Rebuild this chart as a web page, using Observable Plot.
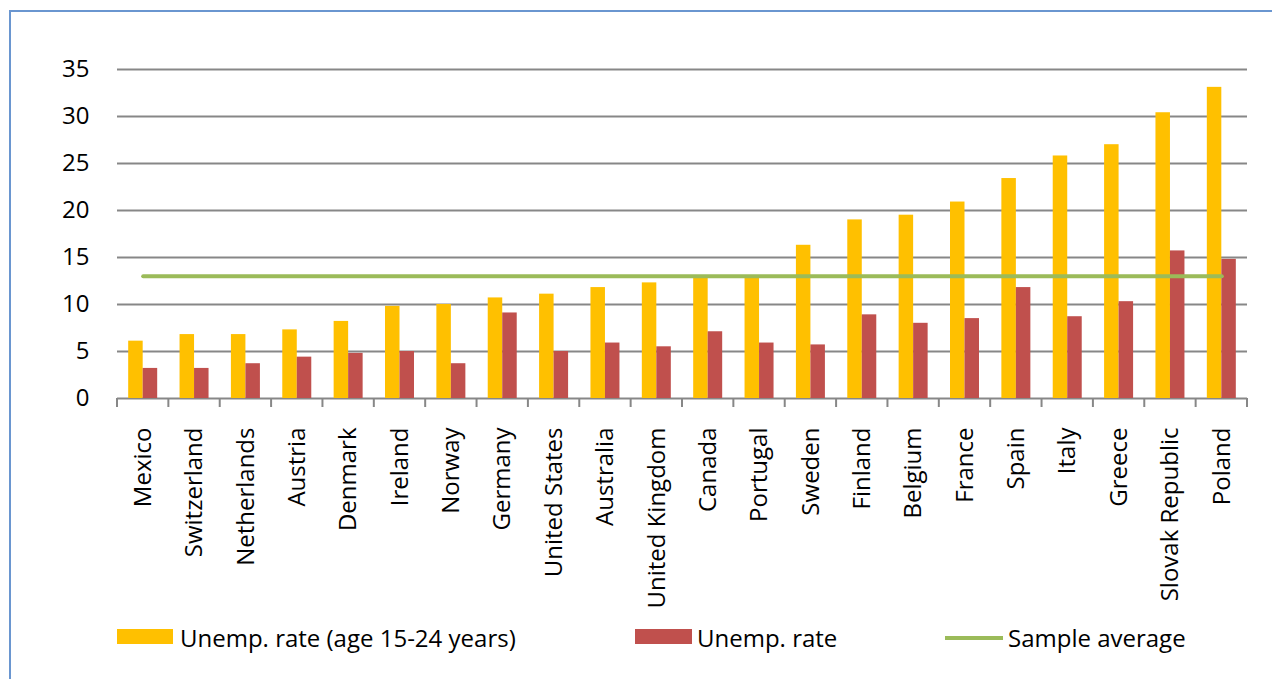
<!DOCTYPE html>
<html>
<head>
<meta charset="utf-8">
<script src="https://cdn.jsdelivr.net/npm/d3@7"></script>
<script src="https://cdn.jsdelivr.net/npm/@observablehq/plot@0.6"></script>
<style>
  html, body { margin: 0; padding: 0; background: #fff; }
  body { width: 1272px; height: 679px; overflow: hidden; position: relative; font-family: "Open Sans", sans-serif; }
  #frame { position: absolute; left: 9px; top: 10px; width: 1300px; height: 720px; border-left: 2px solid #6a96d0; border-top: 2px solid #6a96d0; box-sizing: border-box; }
  #chart { position: absolute; left: 0; top: 0; }
  .sw { position: absolute; }
  .lt { position: absolute; font-size: 24px; line-height: 24px; color: #000; white-space: pre; }
</style>
</head>
<body>
<div id="frame"></div>
<div id="chart"></div>
<div id="legend"></div>
<script>
const countries = ["Mexico","Switzerland","Netherlands","Austria","Denmark","Ireland","Norway","Germany","United States","Australia","United Kingdom","Canada","Portugal","Sweden","Finland","Belgium","France","Spain","Italy","Greece","Slovak Republic","Poland"];
const youthRate = [6.1,6.8,6.8,7.3,8.2,9.8,10.0,10.7,11.1,11.8,12.3,12.9,13.0,16.3,19.0,19.5,20.9,23.4,25.8,27.0,30.4,33.1];
const totalRate = [3.2,3.2,3.7,4.4,4.8,5.0,3.7,9.1,5.0,5.9,5.5,7.1,5.9,5.7,8.9,8.0,8.5,11.8,8.7,10.3,15.7,14.8];
const sampleAverage = [13.0];
const yTicks = [0,5,10,15,20,25,30,35];
const seriesNames = ["Unemp. rate (age 15-24 years)", "Unemp. rate", "Sample average"];
const colors = ["#FFC000", "#C0504D", "#9BBB59"];

const rows = countries.map((c, i) => ({country: c, youth: youthRate[i], total: totalRate[i], avg: sampleAverage[0]}));

const W = 1272, H = 600, ML = 117, MR = 25, MT = 69, MB = 202;
const bw = (W - ML - MR) / countries.length;
const half = bw / 2;
const barW = 14.5;

const chart = Plot.plot({
  width: W, height: H,
  marginLeft: ML, marginRight: MR, marginTop: MT, marginBottom: MB,
  style: {fontFamily: "Open Sans", fontSize: "24px", color: "#000", background: "transparent", overflow: "visible"},
  x: {type: "band", domain: countries, padding: 0, round: false, label: null},
  y: {domain: [0, 35], label: null},
  marks: [
    Plot.gridY(yTicks, {stroke: "#878787", strokeOpacity: 1, strokeWidth: 2}),
    Plot.axisY(yTicks, {tickSize: 0, tickPadding: 28, fontSize: 24, label: null, fill: "#000"}),
    Plot.barY(rows, {x: "country", y: "youth", fill: colors[0], insetLeft: half - barW, insetRight: half}),
    Plot.barY(rows, {x: "country", y: "total", fill: colors[1], insetLeft: half, insetRight: half - barW}),
    Plot.lineY(rows, {x: "country", y: "avg", stroke: colors[2], strokeWidth: 4}),
    (index, scales, values, dims) => {
      const {x, y} = scales;
      const g = d3.create("svg:g").attr("stroke", "#878787").attr("stroke-width", 2);
      const y0 = y(0);
      const edges = countries.map(c => x(c)).concat([x(countries[countries.length - 1]) + bw]);
      for (const e of edges) {
        g.append("line").attr("x1", e).attr("x2", e).attr("y1", y0).attr("y2", y0 + 9);
      }
      return g.node();
    },
    Plot.axisX({tickSize: 0, tickRotate: -90, tickPadding: 29, fontSize: 24, label: null, fill: "#000"})
  ]
});
document.getElementById("chart").appendChild(chart);

// Legend (HTML, below the plot area)
const legend = document.getElementById("legend");
const items = [
  {sw: {left: 117, top: 629, width: 56, height: 15}, text: 180},
  {sw: {left: 635, top: 629, width: 57, height: 15}, text: 697},
  {sw: {left: 945, top: 636, width: 58, height: 4}, text: 1008}
];
items.forEach((it, i) => {
  const s = document.createElement("div");
  s.className = "sw";
  Object.assign(s.style, {left: it.sw.left + "px", top: it.sw.top + "px", width: it.sw.width + "px", height: it.sw.height + "px", background: colors[i]});
  legend.appendChild(s);
  const t = document.createElement("div");
  t.className = "lt";
  t.style.left = it.text + "px";
  t.style.top = "626px";
  t.textContent = seriesNames[i];
  legend.appendChild(t);
});
</script>
</body>
</html>
